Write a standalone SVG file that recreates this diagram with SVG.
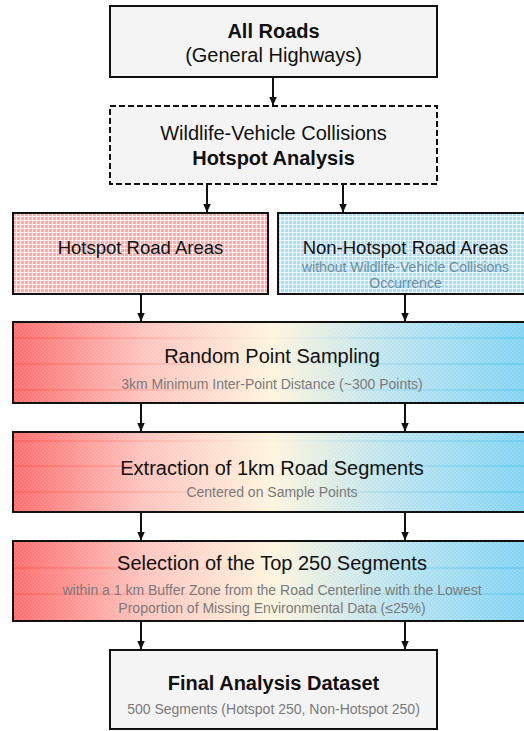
<svg xmlns="http://www.w3.org/2000/svg" width="524" height="731" viewBox="0 0 524 731">
<style>
.box{stroke:#111;stroke-width:2}
.t{font-family:"Liberation Sans",Arial,sans-serif;text-anchor:middle;fill:#111}
.b{font-weight:bold;font-size:20px}
.m{font-size:20px}
.m2{font-size:18.5px}
.s{font-size:14px;fill:#7a7a7a}
.sb{font-size:14px;fill:#6a8fa0}
.conn line{stroke:#111;stroke-width:2}
</style>
<defs>
<marker id="ah" viewBox="0 0 8 8" refX="7.5" refY="4" markerWidth="9" markerHeight="9" markerUnits="userSpaceOnUse" orient="auto">
<path d="M0,0.5 L8,4 L0,7.5 Z" fill="#111"/>
</marker>
<pattern id="pr" width="4" height="4" patternUnits="userSpaceOnUse">
<rect width="4" height="4" fill="#f7aeae"/>
<rect width="4" height="1" fill="#ffffff" opacity="0.7"/>
<rect width="1" height="4" fill="#ffffff" opacity="0.7"/>
</pattern>
<pattern id="pb" width="4" height="4" patternUnits="userSpaceOnUse">
<rect width="4" height="4" fill="#addff4"/>
<rect width="4" height="1" fill="#ffffff" opacity="0.7"/>
<rect width="1" height="4" fill="#ffffff" opacity="0.7"/>
</pattern>
<pattern id="tx" width="4" height="4" patternUnits="userSpaceOnUse">
<rect width="2" height="2" fill="#ffffff" opacity="0.12"/>
<rect x="2" y="2" width="2" height="2" fill="#ffffff" opacity="0.12"/>
</pattern>
<linearGradient id="g" x1="13" y1="0" x2="531" y2="0" gradientUnits="userSpaceOnUse">
<stop offset="0" stop-color="#ff6a6a"/>
<stop offset="0.25" stop-color="#ffc2bc"/>
<stop offset="0.5" stop-color="#fdf4de"/>
<stop offset="0.75" stop-color="#b6e2f0"/>
<stop offset="1" stop-color="#7fd2f2"/>
</linearGradient>
<linearGradient id="gl" x1="13" y1="0" x2="531" y2="0" gradientUnits="userSpaceOnUse">
<stop offset="0" stop-color="#ff4a4a"/>
<stop offset="0.3" stop-color="#ffa8a0"/>
<stop offset="0.5" stop-color="#f4ead8" stop-opacity="0.3"/>
<stop offset="0.7" stop-color="#8ed4ee"/>
<stop offset="1" stop-color="#3fbfee"/>
</linearGradient>
</defs>

<g id="connectors" class="conn">
<line x1="273" y1="77" x2="273" y2="105" marker-end="url(#ah)"/>
<line x1="207" y1="185" x2="207" y2="212" marker-end="url(#ah)"/>
<line x1="343" y1="185" x2="343" y2="212" marker-end="url(#ah)"/>
<line x1="141" y1="295" x2="141" y2="321" marker-end="url(#ah)"/>
<line x1="405" y1="295" x2="405" y2="321" marker-end="url(#ah)"/>
<line x1="141" y1="404" x2="141" y2="431" marker-end="url(#ah)"/>
<line x1="405" y1="404" x2="405" y2="431" marker-end="url(#ah)"/>
<line x1="141" y1="513" x2="141" y2="540" marker-end="url(#ah)"/>
<line x1="405" y1="513" x2="405" y2="540" marker-end="url(#ah)"/>
<line x1="141" y1="622" x2="141" y2="649" marker-end="url(#ah)"/>
<line x1="405" y1="622" x2="405" y2="649" marker-end="url(#ah)"/>
</g>

<g id="all-roads">
<rect class="box" x="110" y="6" width="327" height="71" fill="#f4f4f4"/>
<text class="t b" x="273.5" y="38">All Roads</text>
<text class="t m" x="273.5" y="62">(General Highways)</text>
</g>

<g id="hotspot-analysis">
<rect class="box" x="110" y="106" width="327" height="78" fill="#f4f4f4" stroke-dasharray="6,3"/>
<text class="t m" x="273.5" y="140">Wildlife-Vehicle Collisions</text>
<text class="t b" x="273.5" y="165">Hotspot Analysis</text>
</g>

<g id="hotspot-areas">
<rect class="box" x="13" y="213" width="255" height="81" fill="url(#pr)"/>
<text class="t m2" x="140.5" y="254">Hotspot Road Areas</text>
</g>

<g id="non-hotspot-areas">
<rect class="box" x="278" y="213" width="255" height="81" fill="url(#pb)"/>
<text class="t m2" x="405.5" y="254">Non-Hotspot Road Areas</text>
<text class="t sb" x="405.5" y="272">without Wildlife-Vehicle Collisions</text>
<text class="t sb" x="405.5" y="288">Occurrence</text>
</g>

<g id="random-sampling">
<rect class="box" x="13" y="322" width="518" height="81" fill="url(#g)"/>
<rect x="14" y="323" width="516" height="79" fill="url(#tx)"/>
<g stroke="url(#gl)" stroke-width="1" opacity="0.8">
<line x1="14" y1="338" x2="530" y2="338"/>
<line x1="14" y1="364" x2="530" y2="364"/>
<line x1="14" y1="390" x2="530" y2="390"/>
</g>
<text class="t m" x="272" y="363">Random Point Sampling</text>
<text class="t s" x="272" y="389">3km Minimum Inter-Point Distance (~300 Points)</text>
</g>

<g id="extraction">
<rect class="box" x="13" y="432" width="518" height="80" fill="url(#g)"/>
<rect x="14" y="433" width="516" height="78" fill="url(#tx)"/>
<g stroke="url(#gl)" stroke-width="1" opacity="0.8">
<line x1="14" y1="441" x2="530" y2="441"/>
<line x1="14" y1="466" x2="530" y2="466"/>
<line x1="14" y1="492" x2="530" y2="492"/>
</g>
<text class="t m" x="272" y="475">Extraction of 1km Road Segments</text>
<text class="t s" x="272" y="497">Centered on Sample Points</text>
</g>

<g id="selection">
<rect class="box" x="13" y="541" width="518" height="80" fill="url(#g)"/>
<rect x="14" y="542" width="516" height="78" fill="url(#tx)"/>
<g stroke="url(#gl)" stroke-width="1" opacity="0.8">
<line x1="14" y1="568" x2="530" y2="568"/>
<line x1="14" y1="594" x2="530" y2="594"/>
</g>
<text class="t m" x="272" y="570">Selection of the Top 250 Segments</text>
<text class="t s" x="272" y="595">within a 1 km Buffer Zone from the Road Centerline with the Lowest</text>
<text class="t s" x="272" y="613">Proportion of Missing Environmental Data (≤25%)</text>
</g>

<g id="final-dataset">
<rect class="box" x="110" y="650" width="327" height="79" fill="#f4f4f4"/>
<text class="t b" x="273.5" y="690">Final Analysis Dataset</text>
<text class="t s" x="273.5" y="714">500 Segments (Hotspot 250, Non-Hotspot 250)</text>
</g>
</svg>
